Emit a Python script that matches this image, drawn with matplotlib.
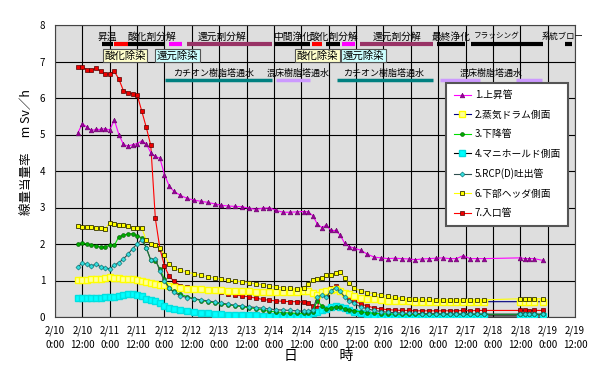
import matplotlib
matplotlib.use('Agg')
import matplotlib.pyplot as plt

plt.rcParams['font.family'] = ['Noto Sans CJK JP', 'DejaVu Sans']

# 経過時間 (2/10 0:00 からの時間 [h])
horas = [10, 12, 14, 16, 18, 20, 22, 24, 26, 28, 30, 32, 34, 36, 38, 40, 42, 44, 46, 48, 50, 52,
         55, 58, 61, 64, 67, 70, 73, 76, 79, 82, 85, 88, 91, 94, 97, 100, 103, 106, 109,
         111, 113, 115, 117, 119, 121, 123, 125, 127, 129, 131,
         134, 137, 140, 143, 146, 149, 152, 155, 158, 161, 164, 167, 170, 173, 176, 179, 182, 185, 188,
         204, 206, 208, 210, 214]

s1_joushoukan = [5.04, 5.30, 5.20, 5.11, 5.14, 5.14, 5.16, 5.12, 5.40, 5.00, 4.73, 4.68, 4.72, 4.75, 4.82, 4.75, 4.50, 4.40, 4.35, 3.90, 3.60, 3.45,
                 3.33, 3.25, 3.20, 3.17, 3.14, 3.10, 3.06, 3.04, 3.03, 3.02, 2.98, 2.95, 2.98, 2.99, 2.92, 2.87, 2.87, 2.88, 2.89,
                 2.88, 2.78, 2.55, 2.45, 2.52, 2.37, 2.37, 2.25, 2.02, 1.93, 1.89,
                 1.83, 1.72, 1.64, 1.62, 1.60, 1.61, 1.60, 1.59, 1.57, 1.59, 1.60, 1.61, 1.62, 1.60, 1.60, 1.68, 1.60, 1.60, 1.60,
                 1.62, 1.60, 1.60, 1.60, 1.55]

s2_drum = [1.02, 1.02, 1.02, 1.03, 1.04, 1.05, 1.07, 1.09, 1.08, 1.06, 1.05, 1.04, 1.03, 1.01, 0.98, 0.95, 0.93, 0.91, 0.89, 0.87, 0.84, 0.81,
           0.79, 0.78, 0.77, 0.76, 0.75, 0.74, 0.73, 0.72, 0.72, 0.71, 0.70, 0.69, 0.69, 0.68, 0.68, 0.68, 0.68, 0.68, 0.70,
           0.70, 0.65, 0.60, 0.68, 0.72, 0.75, 0.76, 0.72, 0.67, 0.62, 0.58,
           0.53, 0.50, 0.48, 0.46, 0.45, 0.44, 0.43, 0.43, 0.42, 0.42, 0.42, 0.42, 0.42, 0.42, 0.42, 0.42, 0.42, 0.42, 0.42,
           0.42, 0.42, 0.42, 0.42, 0.42]

s3_kakoukan = [2.00, 2.03, 2.00, 1.98, 1.95, 1.91, 1.93, 1.96, 1.96, 2.20, 2.24, 2.28, 2.28, 2.23, 2.17, 1.90, 1.55, 1.54, 1.32, 1.03, 0.80, 0.70,
               0.62, 0.56, 0.50, 0.45, 0.42, 0.39, 0.36, 0.33, 0.31, 0.28, 0.25, 0.23, 0.19, 0.16, 0.14, 0.12, 0.11, 0.10, 0.10,
               0.10, 0.15, 0.45, 0.30, 0.22, 0.25, 0.28, 0.27, 0.23, 0.20, 0.17,
               0.14, 0.12, 0.10, 0.09, 0.08, 0.08, 0.07, 0.07, 0.07, 0.07, 0.07, 0.07, 0.07, 0.07, 0.07, 0.07, 0.07, 0.07, 0.07,
               0.07, 0.07, 0.07, 0.07, 0.07]

s4_manifold = [0.53, 0.53, 0.53, 0.52, 0.53, 0.53, 0.54, 0.54, 0.56, 0.58, 0.60, 0.62, 0.62, 0.61, 0.57, 0.50, 0.46, 0.44, 0.38, 0.30, 0.24, 0.21,
               0.18, 0.16, 0.14, 0.12, 0.10, 0.08, 0.07, 0.06, 0.05, 0.05, 0.05, 0.05, 0.04, 0.04, 0.04, 0.04, 0.04, 0.04, 0.04,
               0.05, 0.10, 0.14, 0.18, 0.23, 0.27, 0.29, 0.28, 0.24, 0.19, 0.14,
               0.10, 0.07, 0.05, 0.04, 0.03, 0.03, 0.03, 0.03, 0.03, 0.03, 0.03, 0.03, 0.03, 0.03, 0.03, 0.03, 0.03, 0.03, 0.03,
               0.03, 0.03, 0.03, 0.03, 0.03]

s5_rcp = [1.37, 1.48, 1.44, 1.41, 1.44, 1.38, 1.35, 1.32, 1.42, 1.49, 1.59, 1.72, 1.87, 2.00, 2.12, 1.90, 1.56, 1.60, 1.25, 0.98, 0.80, 0.68,
          0.58, 0.53, 0.50, 0.47, 0.44, 0.41, 0.38, 0.35, 0.32, 0.30, 0.28, 0.26, 0.24, 0.22, 0.20, 0.19, 0.18, 0.17, 0.16,
          0.16, 0.20, 0.55, 0.60, 0.55, 0.72, 0.80, 0.70, 0.55, 0.45, 0.37,
          0.28, 0.22, 0.18, 0.15, 0.13, 0.12, 0.11, 0.10, 0.10, 0.09, 0.09, 0.09, 0.08, 0.08, 0.08, 0.08, 0.08, 0.08, 0.08,
          0.08, 0.08, 0.08, 0.08, 0.08]

s6_header = [2.48, 2.47, 2.46, 2.47, 2.45, 2.45, 2.42, 2.58, 2.56, 2.53, 2.52, 2.48, 2.45, 2.43, 2.45, 2.10, 2.00, 1.96, 1.90, 1.70, 1.45, 1.33,
             1.28, 1.23, 1.18, 1.14, 1.10, 1.07, 1.04, 1.01, 0.98, 0.97, 0.94, 0.91, 0.88, 0.84, 0.82, 0.80, 0.79, 0.78, 0.80,
             0.90, 1.02, 1.05, 1.08, 1.14, 1.16, 1.20, 1.22, 1.08, 0.92, 0.80,
             0.72, 0.67, 0.64, 0.60, 0.57, 0.54, 0.52, 0.50, 0.49, 0.48, 0.48, 0.47, 0.47, 0.47, 0.47, 0.47, 0.47, 0.47, 0.47,
             0.50, 0.50, 0.50, 0.50, 0.50]

s7_iriguchi = [6.84, 6.85, 6.78, 6.76, 6.82, 6.73, 6.65, 6.66, 6.73, 6.52, 6.20, 6.15, 6.11, 6.09, 5.65, 5.20, 4.70, 2.70, 1.87, 1.40, 1.12, 0.99,
               0.86, 0.81, 0.77, 0.74, 0.72, 0.70, 0.68, 0.64, 0.60, 0.58, 0.55, 0.52, 0.48, 0.46, 0.44, 0.43, 0.42, 0.42, 0.41,
               0.38, 0.30, 0.25, 0.72, 0.60, 0.80, 0.84, 0.72, 0.62, 0.52, 0.45,
               0.36, 0.30, 0.25, 0.22, 0.20, 0.19, 0.18, 0.18, 0.17, 0.17, 0.17, 0.17, 0.17, 0.17, 0.17, 0.18, 0.17, 0.18, 0.18,
               0.18, 0.18, 0.17, 0.18, 0.18]

# 工程バー (開始h, 終了h, 色)
etapas_barra = [(20.5, 25.6, 'black'), (26, 31.9, 'red'), (32, 48.2, 'black'), (50, 55.7, '#FF00FF'),
                (57.7, 95, '#993366'), (96, 111.8, 'black'), (112.5, 117, 'red'), (119, 125, 'black'),
                (126, 131.5, '#FF00FF'), (133.7, 165.7, '#993366'), (167.3, 179.7, 'black'),
                (182.4, 213.8, 'black'), (223.6, 226.5, 'black')]
etapas_texto = [(23, '昇温', 7), (42.4, '酸化剤分解', 7), (73.4, '還元剤分解', 7), (104, '中間浄化', 7),
                (122.4, '酸化剤分解', 7), (149.8, '還元剤分解', 7), (173.5, '最終浄化', 7),
                (193.6, 'フラッシング', 5.5), (222.5, '系統ブロー', 6)]
caixas = [(30.7, '酸化除染', '#FFFFCC'), (53.7, '還元除染', '#CCFFFF'),
          (115, '酸化除染', '#FFFFCC'), (135.2, '還元除染', '#CCFFFF')]
agua_barra = [(48.2, 95, '#008080'), (96.9, 111.8, '#CC99FF'), (123.5, 165.8, '#008080'),
              (168.8, 186.3, '#CC99FF'), (202, 213.4, '#CC99FF')]
agua_texto = [(69.7, 'カチオン樹脂塔通水'), (106.5, '混床樹脂塔通水'), (144, 'カチオン樹脂塔通水'), (191, '混床樹脂塔通水')]

rotulos_x = []
for d in range(10, 20):
    rotulos_x.append(f'2/{d}\n0:00')
    rotulos_x.append(f'2/{d}\n12:00')

fig = plt.figure(figsize=(6, 3.74), dpi=100)
ax = fig.add_axes([55/600, 1-317/374, 520/600, 292/374])
ax.set_facecolor('#dedede')

ax.plot(horas, s7_iriguchi, color='red', lw=0.8, marker='s', ms=3.2, mfc='#ee0000', mec='#550000', mew=0.5, label='7.入口管', zorder=3)
ax.plot(horas, s4_manifold, color='black', lw=0.8, marker='s', ms=3.8, mfc='#00ffff', mec='#00e0e0', mew=1.0, label='4.マニホールド側面', zorder=3)
ax.plot(horas, s3_kakoukan, color='#00dd00', lw=0.8, marker='o', ms=2.8, mfc='#00aa00', mec='#005500', mew=0.4, label='3.下降管', zorder=4)
ax.plot(horas, s5_rcp, color='#2f4f4f', lw=0.8, marker='D', ms=2.6, mfc='#33dddd', mec='#006666', mew=0.4, label='5.RCP(D)吐出管', zorder=4)
ax.plot(horas, s2_drum, color='#000080', lw=0.8, marker='s', ms=3.8, mfc='#ffff99', mec='#ffff00', mew=1.0, label='2.蒸気ドラム側面', zorder=3)
ax.plot(horas, s6_header, color='#ffff00', lw=0.8, marker='s', ms=3.4, mfc='#ffff00', mec='#333300', mew=0.6, label='6.下部ヘッダ側面', zorder=4)
ax.plot(horas, s1_joushoukan, color='#ff00ff', lw=0.8, marker='^', ms=3.4, mfc='#990099', mec='#660066', mew=0.4, label='1.上昇管', zorder=5)

ax.set_xlim(0, 228)
ax.set_ylim(0, 8)
ax.set_xticks(range(0, 229, 12))
ax.set_xticklabels(rotulos_x, fontsize=7, linespacing=1.5)
ax.set_yticks(range(0, 9))
ax.tick_params(length=0, labelsize=7)
ax.tick_params(axis='x', pad=6)
ax.tick_params(axis='y', pad=7)
ax.grid(True, color='black', lw=0.8)
ax.set_axisbelow(True)
for sp in ax.spines.values():
    sp.set_color('#444444')
    sp.set_linewidth(0.8)

# 工程表示
for a, b, c in etapas_barra:
    ax.plot([a, b], [7.48, 7.48], color=c, lw=3, solid_capstyle='butt', zorder=6, clip_on=False)
for x, t, fs in etapas_texto:
    ax.text(x, 7.68, t, fontsize=fs, ha='center', va='center', zorder=7, clip_on=False)
for x, t, c in caixas:
    ax.text(x, 7.17, t, fontsize=7.5, ha='center', va='center', zorder=7,
            bbox=dict(boxstyle='square,pad=0.15', fc=c, ec='#555555', lw=0.8))
for a, b, c in agua_barra:
    ax.plot([a, b], [6.48, 6.48], color=c, lw=2.5, solid_capstyle='butt', zorder=6)
for x, t in agua_texto:
    ax.text(x, 6.68, t, fontsize=6.5, ha='center', va='center', zorder=7)

handles, labels = ax.get_legend_handles_labels()
orden = ['1.上昇管', '2.蒸気ドラム側面', '3.下降管', '4.マニホールド側面', '5.RCP(D)吐出管', '6.下部ヘッダ側面', '7.入口管']
hmap = dict(zip(labels, handles))
leg = ax.legend([hmap[k] for k in orden], orden, loc='upper left', bbox_to_anchor=(0.743, 0.818),
                fontsize=7, frameon=True, fancybox=False, framealpha=1, edgecolor='#555555',
                handlelength=1.8, labelspacing=0.98, borderpad=0.75, handletextpad=0.4)
leg.get_frame().set_linewidth(1.5)
leg.set_zorder(10)

fig.text(27/600, 1-152/374, '線量当量率　 m Sv／h', rotation=90, ha='center', va='center', fontsize=9)
fig.text(319/600, 1-356/374, '日　　　時', ha='center', va='center', fontsize=10)

fig.savefig('out.png', dpi=100, facecolor='white')
